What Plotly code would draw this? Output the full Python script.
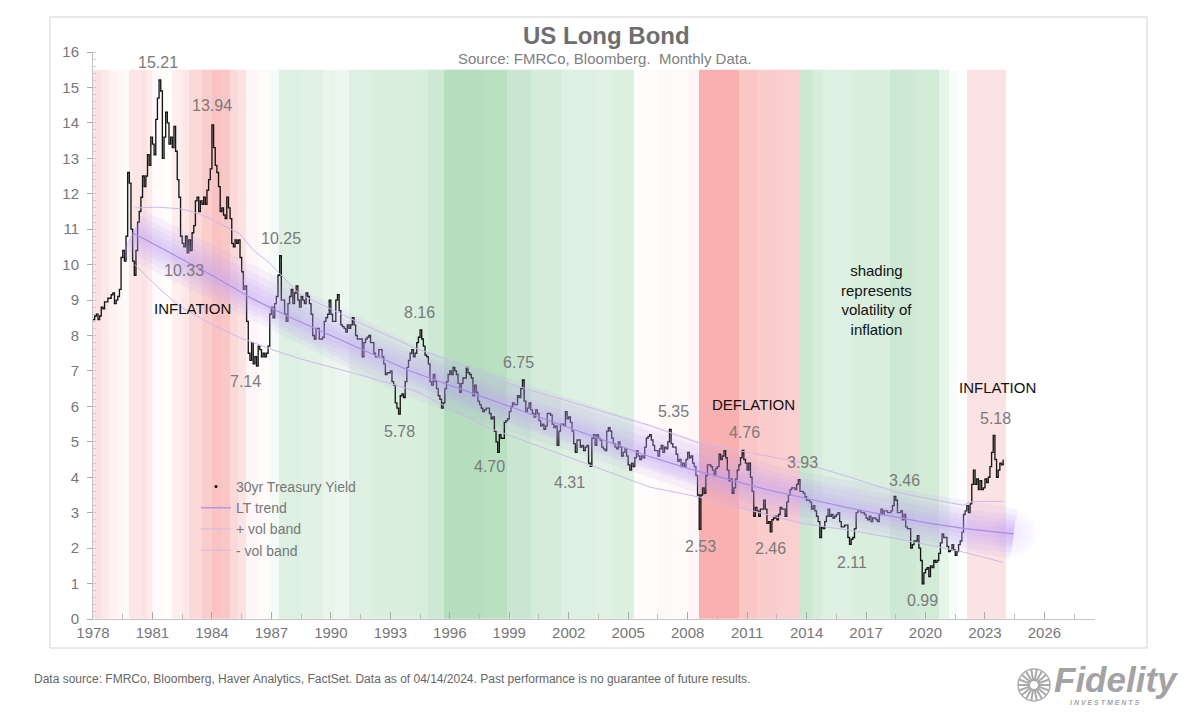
import plotly.graph_objects as go
import numpy as np

# ---------------- DATA ----------------
# Monthly 30yr Treasury yield (%), first value plotted at 1978.0 on the chart axis
yields_by_year = {
    1978: [8.45, 8.55, 8.60, 8.45, 8.55, 8.80, 8.75, 8.95],
    1979: [8.95, 9.05, 9.05, 9.15, 9.20, 8.90, 9.00, 9.10, 9.30, 10.20, 10.40, 10.10],
    1980: [10.80, 12.60, 12.30, 11.00, 10.10, 9.70, 10.40, 11.20, 11.50, 11.90, 12.50, 12.20],
    1981: [12.50, 13.10, 12.80, 13.60, 13.40, 13.10, 14.10, 14.70, 15.21, 14.90, 13.00, 13.60],
    1982: [14.30, 14.00, 13.40, 13.60, 13.30, 13.90, 13.20, 12.40, 11.90, 10.80, 10.60, 10.50],
    1983: [10.80, 10.33, 10.70, 10.40, 10.90, 11.10, 11.80, 11.90, 11.50, 11.80, 11.70, 11.90],
    1984: [11.70, 12.10, 12.40, 12.70, 13.94, 13.30, 12.80, 12.60, 12.20, 11.50, 11.60, 11.40],
    1985: [11.30, 11.90, 11.60, 11.30, 10.60, 10.50, 10.70, 10.60, 10.70, 10.20, 9.80, 9.30],
    1986: [9.40, 8.40, 7.50, 7.30, 7.80, 7.20, 7.40, 7.14, 7.70, 7.60, 7.40, 7.50],
    1987: [7.40, 7.50, 7.70, 8.60, 8.80, 8.50, 8.90, 9.10, 9.70, 10.25, 9.00, 9.00],
    1988: [8.60, 8.40, 8.90, 9.10, 9.30, 8.90, 9.20, 9.40, 9.00, 8.80, 9.10, 9.00],
    1989: [8.90, 9.20, 9.10, 8.90, 8.60, 8.00, 7.90, 8.20, 8.20, 7.90, 7.90, 7.95],
    1990: [8.40, 8.50, 8.60, 9.00, 8.60, 8.40, 8.40, 9.00, 9.15, 8.70, 8.30, 8.25],
    1991: [8.20, 8.10, 8.30, 8.20, 8.30, 8.50, 8.30, 8.00, 7.90, 7.90, 7.90, 7.40],
    1992: [7.80, 7.90, 7.95, 8.00, 7.80, 7.80, 7.50, 7.40, 7.40, 7.60, 7.60, 7.40],
    1993: [7.20, 6.90, 6.95, 6.95, 7.00, 6.70, 6.60, 6.10, 5.95, 5.78, 6.30, 6.35],
    1994: [6.25, 6.70, 7.10, 7.30, 7.50, 7.60, 7.40, 7.50, 7.80, 7.95, 8.16, 7.90],
    1995: [7.70, 7.45, 7.40, 7.20, 6.70, 6.60, 6.90, 6.70, 6.50, 6.30, 6.20, 5.95],
    1996: [6.10, 6.50, 6.70, 6.90, 7.00, 6.90, 7.10, 7.00, 6.90, 6.65, 6.40, 6.65],
    1997: [6.80, 6.80, 7.10, 6.95, 6.90, 6.80, 6.30, 6.60, 6.40, 6.15, 6.05, 5.95],
    1998: [5.85, 5.90, 5.95, 5.95, 5.80, 5.65, 5.70, 5.30, 5.00, 4.70, 5.20, 5.10],
    1999: [5.10, 5.55, 5.60, 5.65, 5.85, 6.00, 6.10, 6.05, 6.05, 6.30, 6.25, 6.50],
    2000: [6.75, 6.15, 5.85, 5.95, 6.10, 5.90, 5.80, 5.70, 5.90, 5.80, 5.60, 5.45],
    2001: [5.50, 5.35, 5.45, 5.80, 5.80, 5.75, 5.50, 5.40, 5.45, 4.90, 5.30, 5.50],
    2002: [5.50, 5.45, 5.85, 5.65, 5.70, 5.55, 5.30, 4.95, 4.70, 5.05, 5.05, 4.85],
    2003: [4.90, 4.75, 4.85, 4.90, 4.40, 4.31, 5.10, 5.20, 4.90, 5.20, 5.10, 5.05],
    2004: [4.85, 4.80, 4.75, 5.30, 5.40, 5.30, 5.10, 4.95, 4.85, 4.80, 5.00, 4.85],
    2005: [4.60, 4.70, 4.80, 4.60, 4.35, 4.20, 4.40, 4.30, 4.55, 4.75, 4.60, 4.50],
    2006: [4.60, 4.55, 4.85, 5.10, 5.15, 5.20, 5.05, 4.90, 4.75, 4.75, 4.60, 4.80],
    2007: [4.90, 4.70, 4.85, 4.80, 5.00, 5.35, 4.95, 4.85, 4.85, 4.65, 4.45, 4.50],
    2008: [4.30, 4.40, 4.30, 4.50, 4.70, 4.55, 4.60, 4.40, 4.30, 4.05, 3.50, 2.53],
    2009: [3.50, 3.70, 3.55, 4.05, 4.35, 4.35, 4.30, 4.20, 4.05, 4.25, 4.30, 4.65],
    2010: [4.50, 4.60, 4.75, 4.55, 4.20, 3.90, 3.95, 3.55, 3.70, 3.95, 4.20, 4.35],
    2011: [4.55, 4.76, 4.50, 4.40, 4.20, 4.40, 4.00, 3.60, 2.90, 3.15, 3.05, 2.90],
    2012: [3.10, 3.10, 3.35, 3.10, 2.70, 2.75, 2.46, 2.80, 2.85, 2.90, 2.80, 2.95],
    2013: [3.15, 3.10, 3.10, 2.90, 3.30, 3.50, 3.65, 3.70, 3.70, 3.65, 3.80, 3.93],
    2014: [3.60, 3.60, 3.55, 3.45, 3.35, 3.35, 3.30, 3.10, 3.20, 3.05, 2.90, 2.75],
    2015: [2.30, 2.60, 2.55, 2.75, 2.90, 3.10, 2.90, 2.95, 2.85, 2.90, 2.95, 3.00],
    2016: [2.75, 2.60, 2.60, 2.65, 2.65, 2.30, 2.11, 2.25, 2.30, 2.55, 3.00, 3.05],
    2017: [3.05, 3.00, 3.00, 2.95, 2.85, 2.80, 2.90, 2.75, 2.85, 2.85, 2.80, 2.75],
    2018: [2.95, 3.10, 2.95, 3.05, 3.05, 3.00, 3.00, 3.05, 3.20, 3.46, 3.35, 3.00],
    2019: [3.00, 3.05, 2.80, 2.95, 2.60, 2.55, 2.55, 2.00, 2.10, 2.20, 2.20, 2.35],
    2020: [2.00, 1.65, 0.99, 1.30, 1.40, 1.45, 1.20, 1.50, 1.45, 1.65, 1.60, 1.65],
    2021: [1.85, 2.15, 2.40, 2.30, 2.30, 2.05, 1.90, 1.95, 2.10, 1.95, 1.80, 1.90],
    2022: [2.10, 2.20, 2.45, 2.95, 3.05, 3.20, 3.00, 3.25, 3.80, 4.20, 3.80, 3.95],
    2023: [3.65, 3.90, 3.65, 3.70, 3.95, 3.85, 4.00, 4.30, 4.70, 5.18, 4.50, 4.00],
    2024: [4.20, 4.40, 4.35, 4.50],
}
series_axis_start = 1978.0

# Long-term trend (chart-axis year, yield)
trend_years = [1980.0, 1982, 1984, 1986, 1988, 1990, 1992, 1994, 1996, 1998, 2000, 2002,
               2004, 2006, 2008, 2010, 2012, 2014, 2016, 2018, 2020, 2022, 2024.45]
trend_vals = [10.9, 10.3, 9.7, 9.05, 8.5, 8.0, 7.5, 7.0, 6.6, 6.2, 5.8, 5.4,
              5.0, 4.6, 4.25, 3.95, 3.65, 3.4, 3.15, 2.93, 2.72, 2.55, 2.4]

up_years = [1980.1, 1981.3, 1982.3, 1983.0, 1983.9, 1985.4, 1986.1, 1986.9, 1988.4, 1991.2,
            1994.2, 1999.3, 2006.1, 2008.6, 2013.7, 2016.2, 2018.7, 2021.9, 2022.4, 2023.9]
up_vals = [11.6, 11.62, 11.58, 11.5, 11.3, 10.87, 10.4, 10.05, 9.18, 8.42,
           7.66, 6.59, 5.46, 4.96, 4.42, 4.0, 3.55, 3.21, 3.32, 3.32]

lo_years = [1980.1, 1981.3, 1982.3, 1983.9, 1985.4, 1986.9, 1988.4, 1991.2, 1994.2, 1997.9,
            2006.1, 2008.6, 2013.7, 2016.2, 2018.7, 2021.9, 2023.9]
lo_vals = [10.0, 9.35, 8.85, 8.34, 7.94, 7.63, 7.35, 6.93, 6.45, 5.41,
           3.72, 3.44, 2.7, 2.5, 2.25, 1.89, 1.6]

# Inflation-volatility shading: segment start years and intensity (+ red / - green)
shade_starts = [1978.0, 1978.4, 1978.8, 1979.2, 1979.5, 1979.8, 1980.4, 1980.7, 1981.0, 1981.5,
                1982.0, 1982.5, 1982.85, 1983.5, 1984.0, 1984.5, 1984.9, 1985.3, 1985.7, 1986.3,
                1986.9, 1987.4, 1988.5, 1989.6, 1990.2, 1990.9, 1992.0, 1993.2, 1994.3, 1994.9,
                1995.7, 1996.6, 1997.75, 1998.9, 2000.1, 2001.6, 2003.3, 2004.2, 2005.3, 2006.5,
                2007.3, 2008.0, 2008.55, 2010.6, 2011.5, 2012.5, 2013.65, 2014.3, 2014.8, 2016.3,
                2018.2, 2019.5, 2020.7, 2021.2, 2021.7, 2022.1]
shade_end = 2024.05
shade_vals = [0.22, 0.18, 0.1, 0.06, -0.05, 0.2, 0.22, 0.16, 0.04, 0.02,
              0.13, 0.18, 0.3, 0.4, 0.47, 0.44, 0.3, 0.22, 0.07, 0.03,
              -0.08, -0.27, -0.24, -0.18, -0.15, -0.27, -0.29, -0.29, -0.31, -0.4,
              -0.6, -0.6, -0.56, -0.43, -0.34, -0.27, -0.24, -0.28, 0.02, 0.05,
              0.04, 0.07, 0.62, 0.45, 0.4, 0.38, -0.42, -0.33, -0.27, -0.3,
              -0.4, -0.36, -0.2, -0.05, 0.0, 0.22]
shade_top = 15.5

# Peak / trough labels
peak_text = ["15.21", "13.94", "10.33", "7.14", "10.25", "8.16", "5.78", "6.75", "4.70", "4.31",
             "5.35", "4.76", "2.53", "2.46", "3.93", "2.11", "3.46", "0.99", "5.18"]
peak_x = [1981.3, 1984.0, 1982.6, 1985.7, 1987.5, 1994.45, 1993.45, 1999.45, 1998.0, 2002.05,
          2007.3, 2010.85, 2008.65, 2012.2, 2013.8, 2016.3, 2018.95, 2019.85, 2023.55]
peak_y = [15.7, 14.5, 9.83, 6.7, 10.75, 8.65, 5.28, 7.25, 4.29, 3.84,
          5.85, 5.27, 2.06, 2.0, 4.43, 1.6, 3.92, 0.51, 5.67]

regime_text = ["INFLATION", "DEFLATION", "INFLATION",
               "shading<br>represents<br>volatility of<br>inflation"]
regime_x = [1983.0, 2011.3, 2023.65, 2017.55]
regime_y = [8.75, 6.04, 6.52, 9.0]

x_ticks = list(range(1978, 2027, 3))

# ---------------- FIGURE ----------------
yields = [v for yr in sorted(yields_by_year) for v in yields_by_year[yr]]
series_x = [series_axis_start + i / 12 for i in range(len(yields))]

OFF = 8                      # page body margin
W, H = 1200, 714
L, T = 93 - OFF, 52 - OFF
PW, PH = 1002, 567
R, B = W - L - PW, H - T - PH


def px(x):
    return (x - OFF - L) / PW


def py(y):
    return (T + PH - (y - OFF)) / PH


fig = go.Figure()

# shading
fig.add_trace(go.Heatmap(
    x=shade_starts + [shade_end], y=[0, shade_top], z=[shade_vals],
    zmin=-1, zmax=1, zsmooth=False, showscale=False, hoverinfo="skip",
    colorscale=[[0, "rgb(130,200,145)"], [0.5, "rgb(255,255,255)"], [1, "rgb(243,128,128)"]],
    showlegend=False,
))

# yield series
fig.add_trace(go.Scatter(
    x=series_x, y=yields, mode="lines", line=dict(color="#151515", width=1.35, shape="hv"),
    name="30yr Treasury Yield", showlegend=False,
))

# glow around trend
for w in [50, 38, 28, 19, 11]:
    fig.add_trace(go.Scatter(
        x=trend_years, y=trend_vals, mode="lines",
        line=dict(color="rgba(190,156,245,0.12)", width=w),
        showlegend=False, hoverinfo="skip",
    ))
# soft glow blob at the end of the trend
for s in [46, 36, 26, 16]:
    fig.add_trace(go.Scatter(
        x=trend_years[-1:], y=trend_vals[-1:], mode="markers",
        marker=dict(size=[s], color="rgba(190,156,245,0.07)", line=dict(width=0)),
        showlegend=False, hoverinfo="skip",
    ))

# legend-only marker for yield
fig.add_trace(go.Scatter(
    x=[None], y=[None], mode="markers", marker=dict(color="#111", size=3),
    name="30yr Treasury Yield",
))
fig.add_trace(go.Scatter(
    x=trend_years, y=trend_vals, mode="lines", line=dict(color="#a88ce6", width=1.2),
    name="LT trend",
))
fig.add_trace(go.Scatter(
    x=up_years, y=up_vals, mode="lines", line=dict(color="#cdb8f0", width=1),
    name="+ vol band",
))
fig.add_trace(go.Scatter(
    x=lo_years, y=lo_vals, mode="lines", line=dict(color="#cdb8f0", width=1),
    name="- vol band",
))

annotations = []
for t, x, y in zip(peak_text, peak_x, peak_y):
    annotations.append(dict(x=x, y=y, xref="x", yref="y", text=t, showarrow=False,
                            font=dict(size=16, color="#7a7a7a")))
for t, x, y in zip(regime_text, regime_x, regime_y):
    annotations.append(dict(x=x, y=y, xref="x", yref="y", text=t, showarrow=False,
                            font=dict(size=15, color="#111"), align="center"))


def paper_text(x, y, text, size, color, xanchor="center"):
    return dict(x=px(x), y=py(y), xref="paper", yref="paper", text=text, showarrow=False,
                xanchor=xanchor, yanchor="middle", font=dict(size=size, color=color))


annotations += [
    paper_text(606, 35, "<b>US Long Bond</b>", 24, "#6e6e6e"),
    paper_text(604, 58, "Source: FMRCo, Bloomberg.  Monthly Data.", 15, "#808080"),
    paper_text(32, 679, "Data source: FMRCo, Bloomberg, Haver Analytics, FactSet. Data as of "
               "04/14/2024. Past performance is no guarantee of future results.", 12, "#666",
               xanchor="left"),
    paper_text(1116, 679, "<b><i>Fidelity</i></b>", 35, "#a3a3a3"),
    paper_text(1105, 702, "<b><i>I N V E S T M E N T S</i></b>", 7, "#a3a3a3"),
]

shapes = [dict(type="rect", xref="paper", yref="paper",
               x0=px(50), x1=px(1147), y0=py(648), y1=py(17),
               line=dict(color="#d4d4d4", width=1), layer="below")]
# sunburst of the logo
cx, cy, r0, r1 = 1034, 685, 4, 16
shapes.append(dict(type="circle", xref="paper", yref="paper",
                   x0=px(cx - r1), x1=px(cx + r1), y0=py(cy + r1), y1=py(cy - r1),
                   line=dict(color="#b0b0b0", width=1.5)))
for a in np.linspace(0, 360, 19)[:-1]:
    ang = np.radians(a)
    shapes.append(dict(type="line", xref="paper", yref="paper",
                       x0=px(cx + r0 * np.cos(ang)), y0=py(cy - r0 * np.sin(ang)),
                       x1=px(cx + r1 * np.cos(ang)), y1=py(cy - r1 * np.sin(ang)),
                       line=dict(color="#a8a8a8", width=2)))

fig.update_layout(
    width=W, height=H,
    margin=dict(l=L, r=R, t=T, b=B),
    paper_bgcolor="white", plot_bgcolor="white",
    font=dict(family="Liberation Sans, Arial, sans-serif", color="#777"),
    showlegend=True,
    legend=dict(x=px(196), y=py(471), xanchor="left", yanchor="top",
                bgcolor="rgba(0,0,0,0)", font=dict(size=14, color="#777"),
                tracegroupgap=0, itemwidth=30),
    annotations=annotations,
    shapes=shapes,
    xaxis=dict(range=[1978, 2028.55], tickvals=x_ticks, ticktext=[str(t) for t in x_ticks],
               showgrid=False, zeroline=False, showline=True, linecolor="#c4c4c4",
               ticks="inside", ticklen=7, tickcolor="#aaa",
               minor=dict(tickvals=[t + 1.5 for t in x_ticks], ticks="inside", ticklen=5,
                          tickcolor="#bbb"),
               tickfont=dict(size=15, color="#777")),
    yaxis=dict(range=[0, 16], dtick=1, showgrid=False, zeroline=False, showline=True,
               linecolor="#c4c4c4", ticks="outside", ticklen=5, tickcolor="#aaa",
               ticklabelstandoff=5,
               minor=dict(dtick=0.2, ticks="inside", ticklen=3, tickcolor="#ccc"),
               tickfont=dict(size=15, color="#777")),
)

fig.write_html("out.html")
